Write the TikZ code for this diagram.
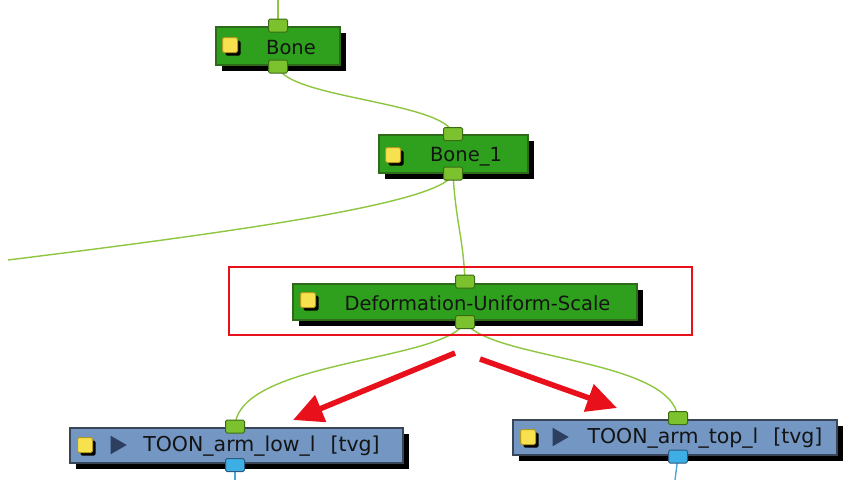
\documentclass[tikz,border=0pt]{standalone}
\usepackage{fontspec}
\setmainfont{DejaVu Sans}
\usetikzlibrary{shadows,arrows.meta,backgrounds,shapes.geometric}
\definecolor{gfill}{HTML}{2EA01E}
\definecolor{gborder}{HTML}{2F6A1A}
\definecolor{gportf}{HTML}{7CC22E}
\definecolor{gportb}{HTML}{3D6B14}
\definecolor{bfill}{HTML}{7396C3}
\definecolor{bborder}{HTML}{3A4658}
\definecolor{bportf}{HTML}{3EAEE6}
\definecolor{bportb}{HTML}{2A5A80}
\definecolor{iconf}{HTML}{F7E14E}
\definecolor{iconb}{HTML}{B39A1E}
\definecolor{trif}{HTML}{2D3E5E}
\definecolor{wirec}{HTML}{8DC63F}
\definecolor{bwirec}{HTML}{4AA8D8}
\definecolor{redc}{HTML}{E8101A}
\definecolor{txt}{HTML}{141414}
\tikzset{
  nodebox/.style={line width=1.2pt, inner sep=0pt,
    drop shadow={shadow xshift=6pt, shadow yshift=-6pt, fill=black, opacity=1}},
  gbox/.style={nodebox, draw=gborder, fill=gfill},
  bbox/.style={nodebox, draw=bborder, fill=bfill},
  portbox/.style={line width=1pt, rounded corners=1.5pt, minimum width=19pt, minimum height=13pt, inner sep=0pt},
  gport/.style={portbox, draw=gportb, fill=gportf},
  bport/.style={portbox, draw=bportb, fill=bportf},
  icon/.style={draw=iconb, fill=iconf, line width=1pt, rounded corners=1.5pt, minimum size=15pt, inner sep=0pt,
    drop shadow={shadow xshift=3pt, shadow yshift=-3pt, fill=black, opacity=1}},
  tri/.style={isosceles triangle, isosceles triangle apex angle=60, fill=trif, minimum height=16pt, inner sep=0pt},
  lab/.style={font=\fontsize{19.5}{22}\selectfont, text=txt, inner sep=0pt},
  blab/.style={lab, font=\fontsize{20.5}{24}\selectfont},
  wire/.style={draw=wirec, line width=1.4pt},
  bwire/.style={draw=bwirec, line width=1.4pt},
  redarr/.style={draw=redc, line width=5.5pt, -{Triangle[length=30pt,width=28pt]}},
  hlbox/.style={draw=redc, line width=2.8pt, minimum width=463pt, minimum height=68pt, inner sep=0pt}
}
\begin{document}
\begin{tikzpicture}[x=1pt,y=-1pt]
\useasboundingbox (0,0) rectangle (843,480);
% boxes
\node[gbox, minimum width=124pt, minimum height=38pt] (bone) at (278,46) {};
\node[gbox, minimum width=149pt, minimum height=38pt] (bone1) at (453.5,154) {};
\node[gbox, minimum width=344pt, minimum height=36pt] (def) at (465,302) {};
\node[bbox, minimum width=333pt, minimum height=35pt] (low) at (236.5,445.5) {};
\node[bbox, minimum width=324pt, minimum height=35pt] (top) at (675,437.5) {};
% icons
\node[icon] (ibone) at (230,45) {};
\node[icon] (ibone1) at (393,155) {};
\node[icon] (idef) at (308,300) {};
\node[icon] (ilow) at (85,445) {};
\node[icon] (itop) at (528,437) {};
\node[tri] (tlow) at (116,445) {};
\node[tri] (ttop) at (558,437) {};
% labels
\node[lab] (lbone) at (291,47.5) {Bone};
\node[lab] (lbone1) at (466,156.5) {Bone\_1};
\node[lab] (ldef) at (477.5,303.5) {Deformation-Uniform-Scale};
\node[blab] (llow) at (261.5,446.5) {TOON\_arm\_low\_l\hspace{15pt}[tvg]};
\node[blab] (ltop) at (705,438.5) {TOON\_arm\_top\_l\hspace{15pt}[tvg]};
% ports
\node[gport] (bonein) at (278,25.5) {};
\node[gport] (boneout) at (278,66.5) {};
\node[gport] (bone1in) at (453,134) {};
\node[gport] (bone1out) at (453,173.5) {};
\node[gport] (defin) at (465,281.5) {};
\node[gport] (defout) at (465,322) {};
\node[gport] (lowin) at (235,426.5) {};
\node[bport] (lowout) at (235,465) {};
\node[gport] (topin) at (678,418) {};
\node[bport] (topout) at (678,456.5) {};
% free ends
\coordinate (src) at (278,0);
\coordinate (leftend) at (8,260);
\coordinate (lowend) at (235,480);
\coordinate (topend) at (675,480);
\begin{scope}[on background layer]
\fill[white] (0,0) rectangle (843,480);
\draw[wire] (src) -- (bonein.center);
\draw[wire] (boneout.center) .. controls (286,98) and (446,102) .. (bone1in.center);
\draw[wire] (bone1out.center) .. controls (456,225) and (463,235) .. (defin.center);
\draw[wire] (bone1out.center) .. controls (445,202) and (250,230) .. (leftend);
\draw[wire] (defout.center) .. controls (445,362) and (238,360) .. (lowin.center);
\draw[wire] (defout.center) .. controls (490,360) and (672,358) .. (topin.center);
\draw[bwire] (lowout.center) -- (lowend);
\draw[bwire] (topout.center) -- (topend);
\end{scope}
% highlight and arrows
\node[hlbox] (hl) at (460.5,301) {};
\coordinate (a1s) at (455,353);
\coordinate (a1e) at (293,420);
\coordinate (a2s) at (480,359);
\coordinate (a2e) at (617,408);
\draw[redarr] (a1s) -- (a1e);
\draw[redarr] (a2s) -- (a2e);
\end{tikzpicture}
\end{document}
